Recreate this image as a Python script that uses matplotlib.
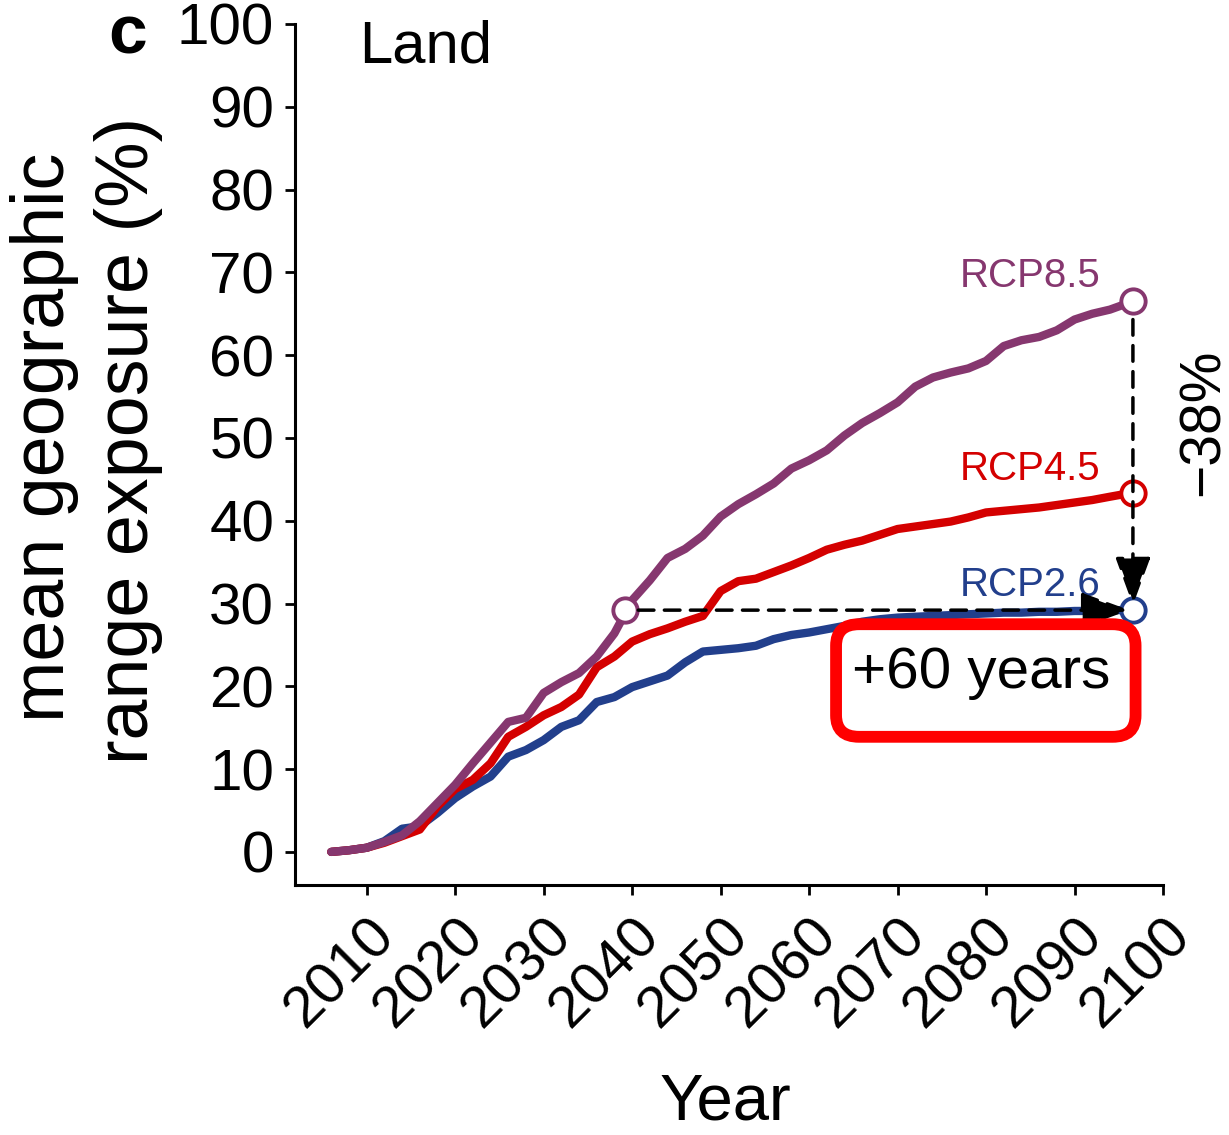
import matplotlib.pyplot as plt
from matplotlib.patches import FancyBboxPatch

plt.rcParams['font.family'] = ['Liberation Sans', 'DejaVu Sans']

# values (mean geographic range exposure, %)
years = [2006, 2008, 2010, 2012, 2014, 2016, 2018, 2020, 2022, 2024,
         2026, 2028, 2030, 2032, 2034, 2036, 2038, 2040, 2042, 2044,
         2046, 2048, 2050, 2052, 2054, 2056, 2058, 2060, 2062, 2064,
         2066, 2068, 2070, 2072, 2074, 2076, 2078, 2080, 2082, 2084,
         2086, 2088, 2090, 2092, 2094, 2096.6]

rcp85 = [0.0, 0.2, 0.5, 1.2, 2.0, 3.7, 5.9, 8.1, 10.7, 13.2,
         15.7, 16.2, 19.2, 20.5, 21.6, 23.6, 26.4, 30.4, 32.8, 35.5,
         36.6, 38.2, 40.5, 42.0, 43.2, 44.5, 46.3, 47.3, 48.5, 50.3,
         51.8, 53.0, 54.3, 56.2, 57.3, 57.9, 58.4, 59.3, 61.1, 61.8,
         62.2, 63.0, 64.3, 65.0, 65.5, 66.5]

rcp45 = [0.0, 0.2, 0.5, 1.1, 1.9, 2.7, 5.5, 7.6, 8.7, 10.7,
         13.9, 15.1, 16.5, 17.5, 19.0, 22.3, 23.6, 25.4, 26.3, 27.0,
         27.8, 28.5, 31.5, 32.7, 33.0, 33.8, 34.6, 35.5, 36.5, 37.1,
         37.6, 38.3, 39.0, 39.3, 39.6, 39.9, 40.4, 41.0, 41.2, 41.4,
         41.6, 41.9, 42.2, 42.5, 42.9, 43.4]

rcp26 = [0.0, 0.2, 0.5, 1.3, 2.8, 3.1, 4.7, 6.5, 7.9, 9.1,
         11.5, 12.3, 13.5, 15.1, 15.9, 18.1, 18.7, 19.9, 20.6, 21.3,
         22.9, 24.2, 24.4, 24.6, 24.9, 25.7, 26.2, 26.5, 26.9, 27.3,
         27.8, 28.1, 28.3, 28.4, 28.5, 28.6, 28.7, 28.8, 28.9, 28.9,
         29.0, 29.0, 29.1, 29.1, 29.2, 29.2]

# year when RCP8.5 reaches the end-of-century RCP2.6 level
cross_year = 2039.2
cross_value = 29.2

c85 = '#86376f'
c45 = '#d40000'
c26 = '#223f8c'

fig = plt.figure(figsize=(12.29, 11.35), dpi=100)
ax = fig.add_axes([295 / 1229, 1 - 885 / 1135, (1163 - 295) / 1229, (885 - 24) / 1135])

ax.plot(years, rcp26, color=c26, lw=6, solid_capstyle='round', zorder=2)
ax.plot(years, rcp45, color=c45, lw=6, solid_capstyle='round', zorder=3)
ax.plot(years, rcp85, color=c85, lw=6, solid_capstyle='round', zorder=4)

mk = dict(marker='o', ms=17.5, mfc='white', mew=2.8, ls='none', zorder=5)
ax.plot([cross_year, years[-1]], [cross_value, rcp85[-1]], mec=c85, **mk)
ax.plot([years[-1]], [rcp45[-1]], mec=c45, **mk)
ax.plot([years[-1]], [rcp26[-1]], mec=c26, **mk)

# dashed arrows: +60 years (horizontal) and -38% (vertical)
arr = dict(arrowstyle='-|>,head_length=1.5,head_width=0.55', color='black',
           lw=2.5, linestyle=(0, (4.5, 3)), mutation_scale=20)
ax.annotate('', xy=(years[-1] - 0.4, rcp26[-1]), xytext=(cross_year + 1.5, cross_value),
            arrowprops=dict(shrinkA=0, shrinkB=0, **arr), zorder=6)
ax.annotate('', xy=(years[-1], rcp26[-1] + 0.6), xytext=(years[-1], rcp85[-1] - 2.2),
            arrowprops=dict(shrinkA=0, shrinkB=0, **arr), zorder=6)

ax.text(2092.9, 68.2, 'RCP8.5', color=c85, fontsize=29, ha='right', va='baseline')
ax.text(2092.9, 44.9, 'RCP4.5', color=c45, fontsize=29, ha='right', va='baseline')
ax.text(2092.9, 30.9, 'RCP2.6', color=c26, fontsize=29, ha='right', va='baseline')
ax.text(2009.2, 95.4, 'Land', fontsize=43, ha='left', va='baseline')

box = FancyBboxPatch((2063.05, 13.9), 33.85, 13.6, boxstyle='round,pad=0,rounding_size=2.6',
                     fc='white', ec='#ff0000', lw=8.5, zorder=7)
ax.add_patch(box)
ax.text(2064.9, 19.8, '+60 years', fontsize=42, ha='left', va='baseline', zorder=8)

ax.set_xlim(2001.9, 2100)
ax.set_ylim(-4, 100)
ax.set_xticks(range(2010, 2101, 10))
ax.set_yticks(range(0, 101, 10))
ax.tick_params(axis='both', direction='out', length=7, width=2, labelsize=42)
ax.tick_params(axis='y', pad=8)
ax.tick_params(axis='x', pad=10)
for lab in ax.get_xticklabels():
    lab.set_rotation(45)
    lab.set_ha('right')
    lab.set_va('top')
    lab.set_rotation_mode('anchor')
for s in ['top', 'right']:
    ax.spines[s].set_visible(False)
for s in ['left', 'bottom']:
    ax.spines[s].set_linewidth(2.2)

fig.text(64 / 1229, 1 - 437 / 1135, 'mean geographic', fontsize=53, rotation=90,
         rotation_mode='anchor', ha='center', va='baseline')
fig.text(148 / 1229, 1 - 440 / 1135, 'range exposure (%)', fontsize=53, rotation=90,
         rotation_mode='anchor', ha='center', va='baseline')
fig.text(725 / 1229, 1 - 1133 / 1135, 'Year', fontsize=47, ha='center', va='bottom')
fig.text(108 / 1229, 1 - 53 / 1135, 'c', fontsize=50, fontweight='bold', ha='left', va='baseline')
fig.text(1219 / 1229, 1 - 422 / 1135, '\u221238%', fontsize=41, rotation=90,
         rotation_mode='anchor', ha='center', va='baseline')

fig.savefig('out.png', dpi=100)
